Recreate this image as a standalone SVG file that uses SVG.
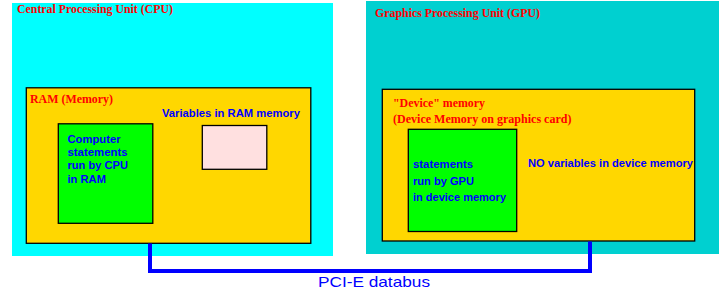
<svg xmlns="http://www.w3.org/2000/svg" width="719" height="289" viewBox="0 0 719 289">
<style>
.box{stroke:#000;stroke-width:1.3}
.rt{font-family:"Liberation Serif",serif;font-weight:bold;fill:#ff0000;font-size:13px}
.bt{font-family:"Liberation Sans",Arial,sans-serif;font-weight:bold;fill:#0000ff;font-size:11.5px}
.bus{fill:none;stroke:#0000ff;stroke-width:4}
</style>
<g id="cpu">
<rect x="12" y="3" width="321" height="253" fill="#00ffff"/>
<text class="rt" x="17" y="13" textLength="156" lengthAdjust="spacingAndGlyphs">Central Processing Unit (CPU)</text>
</g>
<g id="gpu">
<rect x="366" y="1" width="353" height="253" fill="#00d0d0"/>
<text class="rt" x="375" y="17" textLength="165" lengthAdjust="spacingAndGlyphs">Graphics Processing Unit (GPU)</text>
</g>
<g id="ram">
<rect class="box" x="26.3" y="87.8" width="284.5" height="155.5" fill="#ffd700"/>
<text class="rt" x="30" y="103" textLength="83" lengthAdjust="spacingAndGlyphs">RAM (Memory)</text>
<text class="bt" x="162" y="117" textLength="138" lengthAdjust="spacingAndGlyphs">Variables in RAM memory</text>
</g>
<g id="cpu-statements">
<rect class="box" x="58.3" y="123.8" width="94.5" height="99.5" fill="#00ff00"/>
<text class="bt" x="67.5" y="143.3" textLength="53" lengthAdjust="spacingAndGlyphs">Computer</text>
<text class="bt" x="67.5" y="156" textLength="60" lengthAdjust="spacingAndGlyphs">statements</text>
<text class="bt" x="67.5" y="168.8" textLength="60.5" lengthAdjust="spacingAndGlyphs">run by CPU</text>
<text class="bt" x="67.5" y="183.3" textLength="38.5" lengthAdjust="spacingAndGlyphs">in RAM</text>
</g>
<g id="ram-variables">
<rect class="box" x="202.3" y="125.5" width="64.5" height="43.8" fill="#ffe0e0"/>
</g>
<g id="device-memory">
<rect class="box" x="382.3" y="89.3" width="312.4" height="151.7" fill="#ffd700"/>
<text class="rt" x="393" y="107" textLength="92" lengthAdjust="spacingAndGlyphs">"Device" memory</text>
<text class="rt" x="393" y="123" textLength="178.5" lengthAdjust="spacingAndGlyphs">(Device Memory on graphics card)</text>
<text class="bt" x="528" y="166.7" textLength="165" lengthAdjust="spacingAndGlyphs">NO variables in device memory</text>
</g>
<g id="gpu-statements">
<rect class="box" x="408.3" y="129.3" width="108.4" height="102.2" fill="#00ff00"/>
<text class="bt" x="413" y="168.3" textLength="60" lengthAdjust="spacingAndGlyphs">statements</text>
<text class="bt" x="413" y="185" textLength="61" lengthAdjust="spacingAndGlyphs">run by GPU</text>
<text class="bt" x="413" y="200.7" textLength="93" lengthAdjust="spacingAndGlyphs">in device memory</text>
</g>
<g id="connectors">
<polyline class="bus" points="150,243.5 150,271 590,271 590,241.5"/>
<text x="318" y="287" font-family="Liberation Sans, Arial, sans-serif" font-size="15" fill="#0000ff" textLength="112" lengthAdjust="spacingAndGlyphs">PCI-E databus</text>
</g>
</svg>
